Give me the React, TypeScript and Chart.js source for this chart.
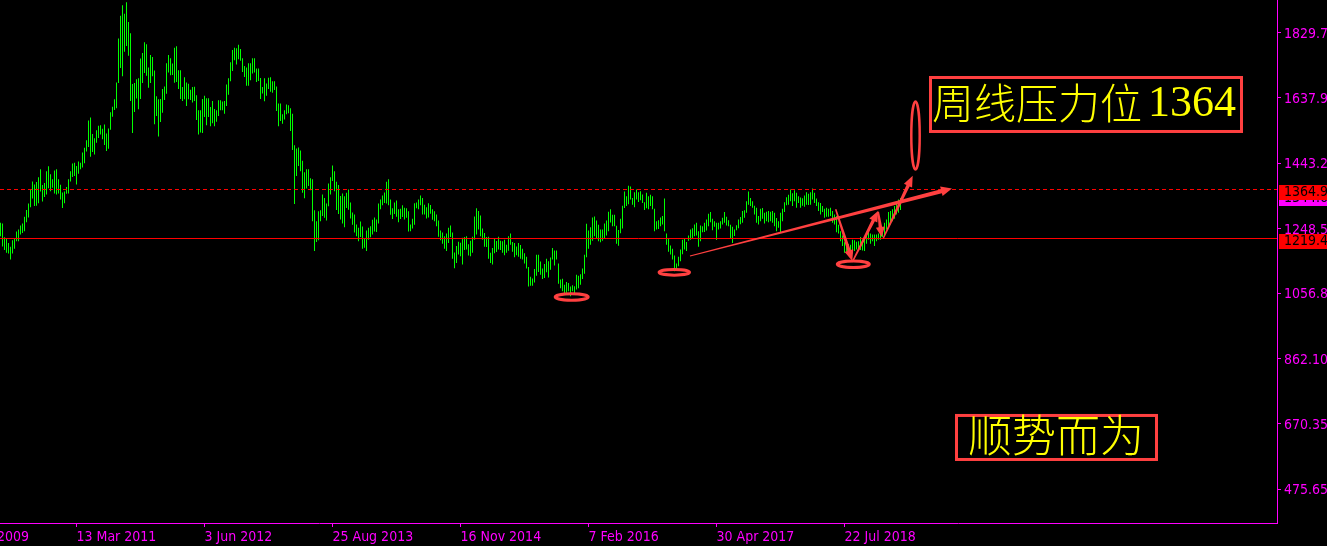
import React, { useEffect, useRef } from 'react';
import { Chart, registerables } from 'chart.js';

Chart.register(...registerables);

// Weekly bar highs / lows (gold, USD), oldest first
const HIGHS = [
  1266, 1264, 1223, 1219, 1206, 1195, 1214, 1221, 1240, 1246,
  1258, 1264, 1284, 1304, 1323, 1365, 1389, 1380, 1387, 1401,
  1425, 1378, 1384, 1419, 1434, 1410, 1395, 1421, 1425, 1395,
  1379, 1356, 1359, 1372, 1395, 1419, 1442, 1444, 1435, 1448,
  1444, 1475, 1489, 1511, 1570, 1579, 1530, 1517, 1541, 1554,
  1556, 1545, 1558, 1531, 1546, 1594, 1611, 1633, 1683, 1813,
  1881, 1912, 1887, 1921, 1862, 1829, 1678, 1681, 1692, 1695,
  1754, 1770, 1802, 1796, 1727, 1764, 1758, 1718, 1642, 1633,
  1634, 1663, 1671, 1740, 1764, 1755, 1739, 1786, 1790, 1719,
  1719, 1669, 1698, 1683, 1679, 1661, 1669, 1670, 1645, 1600,
  1600, 1634, 1643, 1636, 1636, 1610, 1628, 1604, 1600, 1630,
  1630, 1626, 1628, 1677, 1695, 1743, 1779, 1786, 1784, 1795,
  1782, 1755, 1732, 1727, 1740, 1740, 1755, 1755, 1724, 1724,
  1696, 1669, 1695, 1680, 1697, 1698, 1686, 1686, 1671, 1620,
  1620, 1588, 1600, 1617, 1615, 1606, 1590, 1496, 1487, 1490,
  1481, 1450, 1416, 1425, 1425, 1398, 1395, 1303, 1271, 1300,
  1303, 1350, 1340, 1323, 1383, 1401, 1436, 1419, 1388, 1378,
  1346, 1353, 1345, 1355, 1365, 1326, 1297, 1291, 1261, 1251,
  1270, 1255, 1221, 1243, 1251, 1256, 1275, 1282, 1276, 1323,
  1335, 1347, 1356, 1388, 1395, 1335, 1309, 1326, 1332, 1306,
  1308, 1318, 1311, 1309, 1300, 1261, 1278, 1324, 1326, 1335,
  1347, 1340, 1320, 1312, 1324, 1319, 1306, 1300, 1291, 1273,
  1243, 1237, 1226, 1234, 1251, 1258, 1237, 1178, 1197, 1210,
  1207, 1222, 1224, 1226, 1202, 1213, 1225, 1285, 1309, 1301,
  1288, 1249, 1236, 1224, 1225, 1177, 1191, 1219, 1212, 1225,
  1213, 1211, 1216, 1201, 1226, 1234, 1209, 1206, 1196, 1206,
  1200, 1189, 1176, 1165, 1135, 1106, 1101, 1129, 1171, 1171,
  1151, 1130, 1144, 1159, 1152, 1163, 1191, 1184, 1184, 1145,
  1098, 1100, 1082, 1090, 1087, 1077, 1081, 1078, 1112, 1109,
  1113, 1130, 1171, 1263, 1243, 1253, 1282, 1285, 1273, 1260,
  1246, 1246, 1264, 1273, 1299, 1306, 1290, 1290, 1257, 1245,
  1278, 1317, 1359, 1345, 1376, 1374, 1340, 1357, 1365, 1357,
  1360, 1350, 1327, 1355, 1345, 1349, 1345, 1308, 1271, 1274,
  1282, 1286, 1338, 1234, 1221, 1199, 1189, 1169, 1145, 1165,
  1187, 1216, 1221, 1209, 1228, 1246, 1250, 1261, 1266, 1241,
  1258, 1256, 1266, 1276, 1293, 1298, 1278, 1271, 1266, 1266,
  1271, 1281, 1298, 1284, 1274, 1260, 1254, 1246, 1259, 1276,
  1283, 1301, 1303, 1330, 1359, 1340, 1330, 1317, 1311, 1286,
  1308, 1310, 1296, 1299, 1301, 1299, 1301, 1296, 1280, 1271,
  1296, 1308, 1327, 1342, 1349, 1365, 1354, 1363, 1355, 1345,
  1341, 1339, 1347, 1357, 1352, 1357, 1368, 1355, 1338, 1327,
  1325, 1316, 1308, 1311, 1308, 1311, 1301, 1291, 1286, 1260,
  1241, 1228, 1208, 1216, 1203, 1201, 1216, 1214, 1210, 1211,
  1224, 1211, 1216, 1234, 1238, 1234, 1231, 1231, 1231, 1234,
  1234, 1238, 1266, 1276, 1298, 1301, 1306, 1316, 1327, 1335,
  1340, 1337,
];

const LOWS = [
  1226, 1196, 1185, 1177, 1175, 1157, 1175, 1189, 1211, 1211,
  1231, 1236, 1241, 1268, 1282, 1312, 1338, 1316, 1317, 1324,
  1359, 1329, 1343, 1350, 1369, 1360, 1370, 1353, 1350, 1353,
  1335, 1310, 1324, 1352, 1353, 1389, 1402, 1405, 1380, 1412,
  1425, 1430, 1443, 1478, 1491, 1462, 1476, 1469, 1504, 1518,
  1528, 1514, 1497, 1479, 1486, 1542, 1581, 1601, 1606, 1681,
  1726, 1701, 1774, 1791, 1762, 1628, 1533, 1595, 1635, 1603,
  1634, 1681, 1711, 1703, 1667, 1681, 1701, 1559, 1583, 1522,
  1565, 1593, 1631, 1649, 1712, 1704, 1705, 1682, 1684, 1663,
  1634, 1628, 1633, 1613, 1633, 1631, 1623, 1628, 1571, 1528,
  1534, 1533, 1580, 1556, 1580, 1553, 1562, 1553, 1566, 1583,
  1600, 1600, 1590, 1613, 1646, 1686, 1717, 1749, 1736, 1752,
  1747, 1714, 1699, 1673, 1673, 1689, 1709, 1712, 1684, 1687,
  1634, 1650, 1627, 1643, 1663, 1655, 1652, 1660, 1598, 1553,
  1568, 1560, 1573, 1588, 1591, 1539, 1482, 1322, 1405, 1435,
  1419, 1355, 1339, 1368, 1375, 1363, 1271, 1182, 1209, 1214,
  1271, 1286, 1281, 1273, 1315, 1350, 1390, 1360, 1304, 1292,
  1276, 1264, 1253, 1310, 1305, 1279, 1260, 1237, 1226, 1211,
  1224, 1189, 1192, 1182, 1216, 1223, 1231, 1240, 1239, 1264,
  1306, 1318, 1325, 1323, 1318, 1290, 1277, 1292, 1284, 1268,
  1277, 1283, 1276, 1281, 1240, 1241, 1249, 1260, 1309, 1306,
  1318, 1291, 1291, 1279, 1282, 1293, 1275, 1271, 1256, 1225,
  1214, 1204, 1189, 1182, 1206, 1224, 1159, 1131, 1147, 1172,
  1167, 1142, 1185, 1187, 1169, 1167, 1177, 1216, 1231, 1246,
  1226, 1216, 1195, 1194, 1159, 1147, 1142, 1176, 1179, 1187,
  1185, 1177, 1170, 1177, 1183, 1201, 1180, 1164, 1170, 1165,
  1159, 1157, 1145, 1130, 1077, 1079, 1079, 1089, 1109, 1120,
  1112, 1099, 1102, 1119, 1104, 1127, 1157, 1139, 1157, 1085,
  1072, 1063, 1055, 1058, 1063, 1048, 1063, 1056, 1068, 1072,
  1082, 1099, 1115, 1164, 1189, 1201, 1213, 1226, 1221, 1211,
  1208, 1213, 1220, 1228, 1241, 1267, 1256, 1256, 1204, 1198,
  1235, 1249, 1310, 1316, 1321, 1335, 1320, 1312, 1335, 1328,
  1333, 1325, 1304, 1309, 1306, 1316, 1306, 1241, 1246, 1248,
  1256, 1261, 1241, 1201, 1180, 1172, 1157, 1122, 1129, 1137,
  1152, 1173, 1187, 1182, 1213, 1216, 1219, 1226, 1228, 1195,
  1211, 1238, 1239, 1243, 1256, 1268, 1244, 1254, 1215, 1246,
  1249, 1261, 1266, 1258, 1256, 1221, 1206, 1227, 1244, 1250,
  1262, 1266, 1281, 1296, 1320, 1316, 1311, 1291, 1266, 1261,
  1271, 1278, 1264, 1271, 1268, 1271, 1266, 1256, 1241, 1251,
  1236, 1271, 1298, 1318, 1320, 1330, 1316, 1330, 1311, 1325,
  1311, 1317, 1314, 1320, 1319, 1320, 1335, 1325, 1316, 1301,
  1291, 1298, 1281, 1284, 1284, 1286, 1266, 1261, 1238, 1234,
  1211, 1197, 1177, 1180, 1172, 1162, 1175, 1182, 1187, 1185,
  1185, 1184, 1182, 1204, 1216, 1204, 1211, 1197, 1211, 1216,
  1216, 1224, 1228, 1246, 1256, 1261, 1271, 1278, 1291, 1296,
  1304, 1325,
];

// Axis ticks (bar index for the time axis)
const X_TICK_INDEX = [-26, 38, 102, 166, 230, 294, 358, 422];
const X_TICK_LABELS = [
  '21 Dec 2009', '13 Mar 2011', '3 Jun 2012', '25 Aug 2013',
  '16 Nov 2014', '7 Feb 2016', '30 Apr 2017', '22 Jul 2018',
];
const Y_TICK_VALUES = [475.65, 670.35, 862.1, 1056.8, 1248.5, 1443.2, 1637.9, 1829.7];
const Y_TICK_LABELS = ['475.65', '670.35', '862.10', '1056.8', '1248.5', '1443.2', '1637.9', '1829.7'];

// Levels
const SUPPORT_LEVEL = 1219.4;
const RESIST_LEVEL = 1364.9;
const LAST_PRICE = 1344.6;

// Axis ranges
const X_MIN = -0.25;
const X_MAX = 638.25;
const Y_MIN = 374.7;
const Y_MAX = 1927.6;

// Hand-drawn annotations, anchored in (bar index, price)
const ELLIPSES = [
  { i: 285.6, p: 1045.8, rx: 16.5, ry: 3.2, lw: 3 },
  { i: 336.9, p: 1119.1, rx: 15.2, ry: 2.9, lw: 3 },
  { i: 426.4, p: 1142.9, rx: 16.0, ry: 3.2, lw: 3 },
  { i: 457.5, p: 1525.3, rx: 4.2, ry: 34.0, lw: 2.5 },
];
const ARROWS = [
  { from: [344.75, 1167.5], to: [475.75, 1367.9], w0: 1, w1: 4, head: 11, headW: 10 },
  { from: [417.6, 1306.2], to: [425.9, 1152.7], w0: 1.5, w1: 3.5, head: 11, headW: 9 },
  { from: [425.9, 1149.7], to: [438.9, 1302.0], w0: 1.5, w1: 3.5, head: 11, headW: 9 },
  { from: [438.9, 1298.2], to: [440.6, 1224.0], w0: 1.5, w1: 3.5, head: 10, headW: 9 },
  { from: [441.4, 1220.1], to: [456.1, 1405.9], w0: 1.5, w1: 3.5, head: 11, headW: 9 },
];
const NOTE_MAIN = '周线压力位';
const NOTE_NUM = '1364';
const NOTE_TREND = '顺势而为';
const BOX_MAIN = { i0: 465.0, i1: 620.5, p0: 1697.5, p1: 1537.2 };
const BOX_TREND = { i0: 478.0, i1: 578.0, p0: 694.0, p1: 563.3 };

const MAGENTA = '#ff00ff';
const BAR_GREEN = '#00ff00';
const ANNOT_RED = '#ff4040';
const AXIS_FAMILY = '"DejaVu Sans Condensed", "DejaVu Sans", sans-serif';
const AXIS_SIZE = 14;

function drawTaperArrow(ctx: any, x0: number, y0: number, x1: number, y1: number,
  w0: number, w1: number, headLen: number, headW: number) {
  const dx = x1 - x0;
  const dy = y1 - y0;
  const len = Math.hypot(dx, dy);
  const ux = dx / len;
  const uy = dy / len;
  const nx = -uy;
  const ny = ux;
  const bx = x1 - ux * headLen;
  const by = y1 - uy * headLen;
  ctx.beginPath();
  ctx.moveTo(x0 + nx * w0 / 2, y0 + ny * w0 / 2);
  ctx.lineTo(bx + nx * w1 / 2, by + ny * w1 / 2);
  ctx.lineTo(bx + nx * headW / 2, by + ny * headW / 2);
  ctx.lineTo(x1, y1);
  ctx.lineTo(bx - nx * headW / 2, by - ny * headW / 2);
  ctx.lineTo(bx - nx * w1 / 2, by - ny * w1 / 2);
  ctx.lineTo(x0 - nx * w0 / 2, y0 - ny * w0 / 2);
  ctx.closePath();
  ctx.fill();
}

const annotationPlugin = {
  id: 'handAnnotations',
  afterDatasetsDraw(chart: any) {
    const ctx = chart.ctx;
    const X = (i: number) => chart.scales.x.getPixelForValue(i);
    const Y = (p: number) => chart.scales.y.getPixelForValue(p);
    ctx.save();
    ctx.strokeStyle = ANNOT_RED;
    for (const e of ELLIPSES) {
      ctx.lineWidth = e.lw;
      ctx.beginPath();
      ctx.ellipse(X(e.i), Y(e.p), e.rx, e.ry, 0, 0, Math.PI * 2);
      ctx.stroke();
    }
    ctx.fillStyle = ANNOT_RED;
    for (const a of ARROWS) {
      drawTaperArrow(ctx, X(a.from[0]), Y(a.from[1]), X(a.to[0]), Y(a.to[1]), a.w0, a.w1, a.head, a.headW);
    }
    // text boxes
    ctx.lineWidth = 3;
    ctx.strokeStyle = ANNOT_RED;
    const b1 = { x0: X(BOX_MAIN.i0), x1: X(BOX_MAIN.i1), y0: Y(BOX_MAIN.p0), y1: Y(BOX_MAIN.p1) };
    ctx.strokeRect(b1.x0, b1.y0, b1.x1 - b1.x0, b1.y1 - b1.y0);
    const b2 = { x0: X(BOX_TREND.i0), x1: X(BOX_TREND.i1), y0: Y(BOX_TREND.p0), y1: Y(BOX_TREND.p1) };
    ctx.strokeRect(b2.x0, b2.y0, b2.x1 - b2.x0, b2.y1 - b2.y0);

    ctx.fillStyle = '#ffff00';
    ctx.textBaseline = 'middle';
    ctx.textAlign = 'left';
    const c1 = (b1.y0 + b1.y1) / 2 - 1;
    ctx.font = '300 42px "Noto Sans CJK SC", sans-serif';
    ctx.fillText(NOTE_MAIN, b1.x0 + 1.5, c1);
    const w = ctx.measureText(NOTE_MAIN).width;
    ctx.font = '44px "Liberation Serif", serif';
    ctx.fillText(NOTE_NUM, b1.x0 + 1.5 + w + 6, c1 + 1);

    const c2 = (b2.y0 + b2.y1) / 2 - 2.5;
    ctx.font = '300 44px "Noto Sans CJK SC", sans-serif';
    ctx.fillText(NOTE_TREND, b2.x0 + 11.5, c2);
    ctx.restore();
  },
  afterDraw(chart: any) {
    const ctx = chart.ctx;
    const ys = chart.scales.y;
    const left = chart.chartArea.right + 2;
    const tag = (value: number, text: string, bg: string) => {
      const c = ys.getPixelForValue(value) + 2.5;
      ctx.fillStyle = bg;
      ctx.fillRect(left, Math.round(c - 7.5), chart.width - left, 15);
      ctx.fillStyle = '#000000';
      ctx.font = AXIS_SIZE + 'px ' + AXIS_FAMILY;
      ctx.textBaseline = 'middle';
      ctx.textAlign = 'left';
      ctx.fillText(text, left + 5, c);
    };
    ctx.save();
    tag(LAST_PRICE, LAST_PRICE.toFixed(1), MAGENTA);
    tag(RESIST_LEVEL, RESIST_LEVEL.toFixed(1), '#ff0000');
    tag(SUPPORT_LEVEL, SUPPORT_LEVEL.toFixed(1), '#ff0000');
    ctx.restore();
  },
};

export default function App() {
  const canvasRef = useRef<HTMLCanvasElement | null>(null);

  useEffect(() => {
    const canvas = canvasRef.current;
    if (!canvas) return;
    const bars = HIGHS.map((h, i) => ({ x: i, y: [LOWS[i], h] }));
    const chart = new Chart(canvas, {
      type: 'bar',
      data: {
        datasets: [
          {
            type: 'line',
            data: [{ x: X_MIN, y: SUPPORT_LEVEL }, { x: X_MAX, y: SUPPORT_LEVEL }],
            borderColor: '#ff0000',
            borderWidth: 1,
            pointRadius: 0,
            order: 0,
          } as any,
          {
            type: 'line',
            data: [{ x: X_MIN, y: RESIST_LEVEL }, { x: X_MAX, y: RESIST_LEVEL }],
            borderColor: '#ff0000',
            borderWidth: 1,
            borderDash: [4, 3],
            pointRadius: 0,
            order: 0,
          } as any,
          {
            type: 'bar',
            data: bars,
            backgroundColor: BAR_GREEN,
            borderColor: BAR_GREEN,
            borderWidth: 0,
            barThickness: 1,
            inflateAmount: 0,
            order: 1,
          } as any,
        ],
      },
      options: {
        animation: false,
        responsive: false,
        events: [],
        layout: { padding: 0 },
        plugins: {
          legend: { display: false },
          tooltip: { enabled: false },
        },
        scales: {
          x: {
            type: 'linear',
            position: 'bottom',
            min: X_MIN,
            max: X_MAX,
            bounds: 'data',
            offset: false,
            afterBuildTicks: (s: any) => {
              s.ticks = X_TICK_INDEX.map((v) => ({ value: v }));
            },
            afterFit: (s: any) => {
              s.height = 23;
              s.paddingLeft = 0;
              s.paddingRight = 0;
            },
            ticks: {
              color: MAGENTA,
              font: { family: AXIS_FAMILY, size: AXIS_SIZE },
              align: 'start',
              padding: 1.5,
              autoSkip: false,
              maxRotation: 0,
              minRotation: 0,
              callback: (_v: any, i: number) => X_TICK_LABELS[i],
            },
            grid: { display: true, drawOnChartArea: false, offset: false, color: MAGENTA, tickLength: 4 },
            border: { display: true, color: MAGENTA, width: 1 },
          },
          y: {
            type: 'linear',
            position: 'right',
            min: Y_MIN,
            max: Y_MAX,
            bounds: 'data',
            afterBuildTicks: (s: any) => {
              s.ticks = Y_TICK_VALUES.map((v) => ({ value: v }));
            },
            afterFit: (s: any) => {
              s.width = 50;
              s.paddingTop = 0;
              s.paddingBottom = 0;
            },
            ticks: {
              color: MAGENTA,
              font: { family: AXIS_FAMILY, size: AXIS_SIZE },
              padding: 3,
              labelOffset: 1.5,
              autoSkip: false,
              callback: (_v: any, i: number) => Y_TICK_LABELS[i],
            },
            grid: { display: true, drawOnChartArea: false, color: MAGENTA, tickLength: 4 },
            border: { display: true, color: MAGENTA, width: 1 },
          },
        },
      } as any,
      plugins: [annotationPlugin],
    });
    return () => chart.destroy();
  }, []);

  return (
    <div style={{ position: 'fixed', left: 0, top: 0, width: 1327, height: 546, background: '#000000' }}>
      <canvas ref={canvasRef} width={1327} height={546} style={{ display: 'block' }} />
    </div>
  );
}
